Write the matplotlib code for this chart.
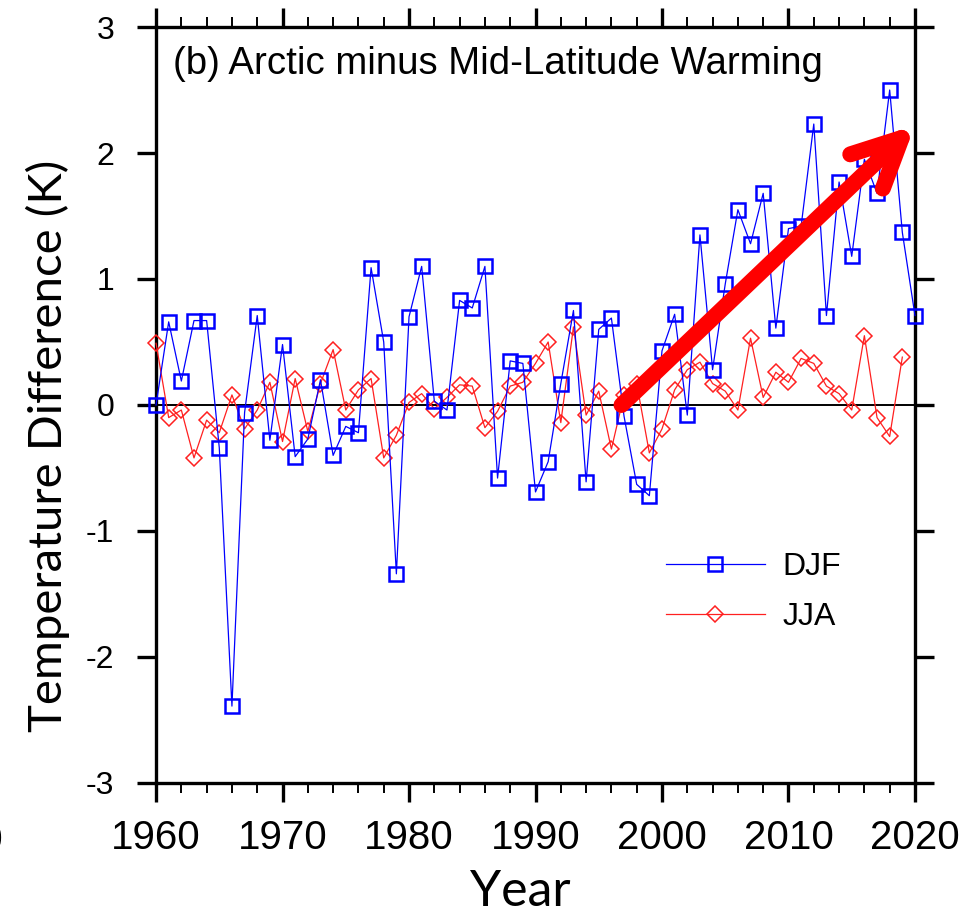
import matplotlib
matplotlib.use("Agg")
import matplotlib.pyplot as plt
from matplotlib.ticker import MultipleLocator

# data
years_djf = list(range(1960, 2021))
djf = [0.00, 0.66, 0.19, 0.67, 0.67, -0.34, -2.39, -0.06, 0.71, -0.28,
       0.48, -0.41, -0.27, 0.20, -0.40, -0.17, -0.22, 1.09, 0.50, -1.34,
       0.70, 1.10, 0.03, -0.04, 0.83, 0.77, 1.10, -0.58, 0.35, 0.33,
       -0.69, -0.45, 0.17, 0.75, -0.61, 0.60, 0.69, -0.09, -0.63, -0.72,
       0.43, 0.72, -0.08, 1.35, 0.28, 0.96, 1.55, 1.28, 1.68, 0.61,
       1.40, 1.42, 2.23, 0.71, 1.77, 1.18, 1.95, 1.68, 2.50, 1.37, 0.71]

years_jja = list(range(1960, 2020))
jja = [0.49, -0.10, -0.04, -0.42, -0.12, -0.22, 0.08, -0.19, -0.04, 0.18,
       -0.29, 0.21, -0.21, 0.17, 0.44, -0.04, 0.12, 0.21, -0.42, -0.24,
       0.02, 0.09, -0.03, 0.06, 0.16, 0.15, -0.18, -0.05, 0.15, 0.18,
       0.33, 0.50, -0.14, 0.62, -0.08, 0.11, -0.35, 0.08, 0.17, -0.38,
       -0.19, 0.12, 0.28, 0.34, 0.17, 0.11, -0.04, 0.53, 0.06, 0.26,
       0.18, 0.37, 0.33, 0.15, 0.09, -0.04, 0.55, -0.10, -0.25, 0.38]

# trend arrow (start, end) in data units
arrow_start = (1996.8, 0.0)
arrow_end = (2020.0, 2.22)

plt.rcParams['font.family'] = ['Liberation Sans', 'DejaVu Sans']
plt.rcParams['axes.unicode_minus'] = False

fig = plt.figure(figsize=(9.71, 9.22), dpi=100)
ax = fig.add_axes([0.1607, 0.1508, 0.7816, 0.8199])

ax.axhline(0, color='black', lw=1.4, zorder=2)

ax.plot(years_djf, djf, color='#0000ff', lw=0.9, marker='s', ms=9.5,
        mfc='none', mec='#0000ff', mew=1.8, label='DJF', clip_on=False, zorder=4)
ax.plot(years_jja, jja, color='#ff2020', lw=0.9, marker='D', ms=8,
        mfc='none', mec='#ff2020', mew=1.1, label='JJA', clip_on=False, zorder=3)

ax.annotate('', xy=arrow_end, xytext=arrow_start,
            arrowprops=dict(arrowstyle='->,head_length=1.75,head_width=0.85',
                            color='#ff0000', lw=11.5, mutation_scale=20,
                            shrinkA=0, shrinkB=0, capstyle='round',
                            joinstyle='round'),
            annotation_clip=False, zorder=6)

ax.set_xlim(1960, 2020)
ax.set_ylim(-3, 3)
ax.xaxis.set_major_locator(MultipleLocator(10))
ax.xaxis.set_minor_locator(MultipleLocator(2))
ax.yaxis.set_major_locator(MultipleLocator(1))
ax.yaxis.set_minor_locator(plt.NullLocator())

for s in ax.spines.values():
    s.set_linewidth(2.4)

ax.tick_params(which='both', direction='out', top=True, right=True, width=2.4)
ax.tick_params(which='major', length=14)
ax.tick_params(which='minor', length=7, width=1.4)
ax.tick_params(axis='x', which='major', labelsize=29, pad=12)
ax.tick_params(axis='y', which='major', labelsize=23, pad=16)

ax.text(0.022, 0.975, '(b) Arctic minus Mid-Latitude Warming', transform=ax.transAxes,
        fontsize=27.6, ha='left', va='top')

fig.text(0.5355, 0.0325, 'Year', fontsize=36, family=['Lato', 'DejaVu Sans'],
         ha='center', va='center')
fig.text(0.049, 0.516, 'Temperature Difference (K)', fontsize=34, rotation=90,
         family=['Lato', 'DejaVu Sans'], ha='center', va='center')

ax.legend(loc='upper left', bbox_to_anchor=(0.655, 0.322), frameon=False,
          fontsize=23, handlelength=3.1, handletextpad=0.55, labelspacing=0.62,
          borderaxespad=0)

# piece of the neighbouring panel's label, cut by the image edge
fig.text(-0.009, 0.088, '0', fontsize=28, ha='center', va='center')

fig.savefig('out.png', dpi=100)
